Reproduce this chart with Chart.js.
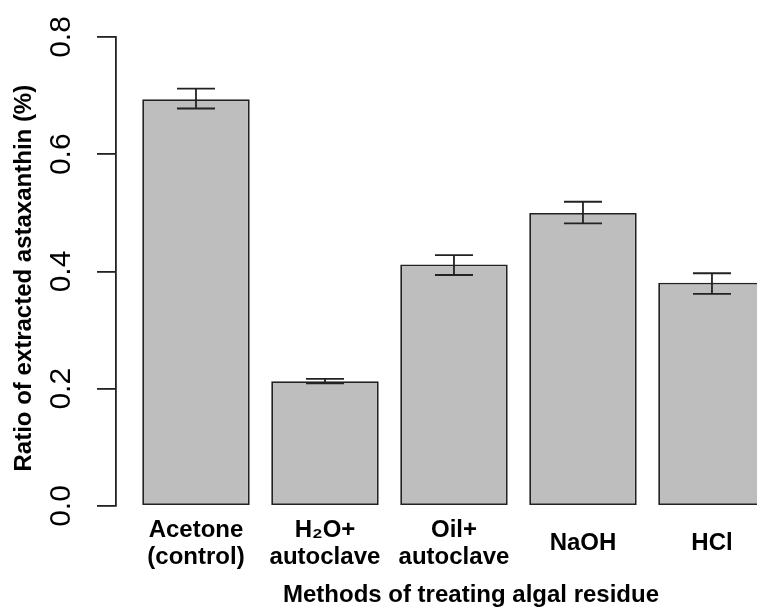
<!DOCTYPE html>
<html>
<head>
<meta charset="utf-8">
<script src="https://cdn.jsdelivr.net/npm/chart.js@4"></script>
<style>
  html, body { margin: 0; padding: 0; background: #fff; overflow: hidden; }
  #wrap { width: 757px; height: 607px; overflow: hidden; position: relative; }
  canvas { display: block; }
</style>
</head>
<body>
<div id="wrap"><canvas id="c" width="830" height="610"></canvas></div>
<script>
const categories = [
  ['Acetone', '(control)'],
  ['H\u2082O+', 'autoclave'],
  ['Oil+', 'autoclave'],
  'NaOH',
  'HCl'
];
const meanValues = [0.694, 0.213, 0.412, 0.500, 0.381];
const errLow     = [0.678, 0.209, 0.394, 0.482, 0.362];
const errHigh    = [0.712, 0.217, 0.428, 0.519, 0.397];
const yTicks = [0.0, 0.2, 0.4, 0.6, 0.8];
const xTitle = 'Methods of treating algal residue';
const yTitle = 'Ratio of extracted astaxanthin (%)';

const errorBars = {
  id: 'errorBars',
  afterDatasetsDraw(chart) {
    const ctx = chart.ctx;
    const xs = chart.scales.x, ys = chart.scales.y;
    ctx.save();
    ctx.strokeStyle = '#222';
    ctx.lineWidth = 1.8;
    const half = 19;
    meanValues.forEach((v, i) => {
      const px = xs.getPixelForValue(i);
      const top = ys.getPixelForValue(errHigh[i]);
      const bot = ys.getPixelForValue(errLow[i]);
      ctx.beginPath();
      ctx.moveTo(px, top); ctx.lineTo(px, bot);
      ctx.moveTo(px - half, top); ctx.lineTo(px + half, top);
      ctx.moveTo(px - half, bot); ctx.lineTo(px + half, bot);
      ctx.stroke();
    });
    ctx.restore();
  }
};

new Chart(document.getElementById('c'), {
  type: 'bar',
  data: {
    datasets: [{
      data: meanValues.map((v, i) => ({ x: i, y: v })),
      backgroundColor: '#bebebe',
      borderColor: '#222',
      borderWidth: 1.8,
      borderSkipped: false,
      categoryPercentage: 1,
      barPercentage: 1 / 1.2
    }]
  },
  options: {
    responsive: false,
    animation: false,
    layout: { padding: { top: 37, left: 0, right: 4, bottom: 0 } },
    plugins: { legend: { display: false }, tooltip: { enabled: false } },
    scales: {
      x: {
        type: 'linear',
        offset: false,
        min: -0.62,
        max: 4.884,
        grid: { display: false, offset: false },
        border: { display: false },
        afterBuildTicks: s => { s.ticks = categories.map((_, i) => ({ value: i })); },
        afterFit: s => { s.height = 104; },
        ticks: {
          autoSkip: false,
          maxRotation: 0,
          minRotation: 0,
          crossAlign: 'center',
          padding: 16,
          color: '#000',
          font: { family: 'Liberation Sans, Arial, sans-serif', size: 24, weight: 'bold', lineHeight: 1.15 },
          callback: v => categories[v]
        },
        title: {
          display: true,
          text: xTitle,
          color: '#000',
          font: { family: 'Liberation Sans, Arial, sans-serif', size: 24, weight: 'bold', lineHeight: 1.2 },
          padding: { top: 0, bottom: 0 }
        }
      },
      y: {
        min: 0,
        max: 0.8,
        afterBuildTicks: s => { s.ticks = yTicks.map(v => ({ value: v })); },
        afterFit: s => { s.width = 116; },
        grid: { display: true, drawOnChartArea: false, drawTicks: true, tickLength: 19, color: '#222', lineWidth: 1.8 },
        border: { display: true, color: '#222', width: 1.8 },
        ticks: {
          minRotation: 90,
          maxRotation: 90,
          crossAlign: 'center',
          padding: 14,
          color: '#000',
          font: { family: 'Liberation Sans, Arial, sans-serif', size: 30 },
          callback: v => Number(v).toFixed(1)
        },
        title: {
          display: true,
          text: yTitle + '  ',
          color: '#000',
          font: { family: 'Liberation Sans, Arial, sans-serif', size: 24, weight: 'bold', lineHeight: 1.2 },
          padding: { top: 10, bottom: 0 }
        }
      }
    }
  },
  plugins: [errorBars]
});
</script>
</body>
</html>
